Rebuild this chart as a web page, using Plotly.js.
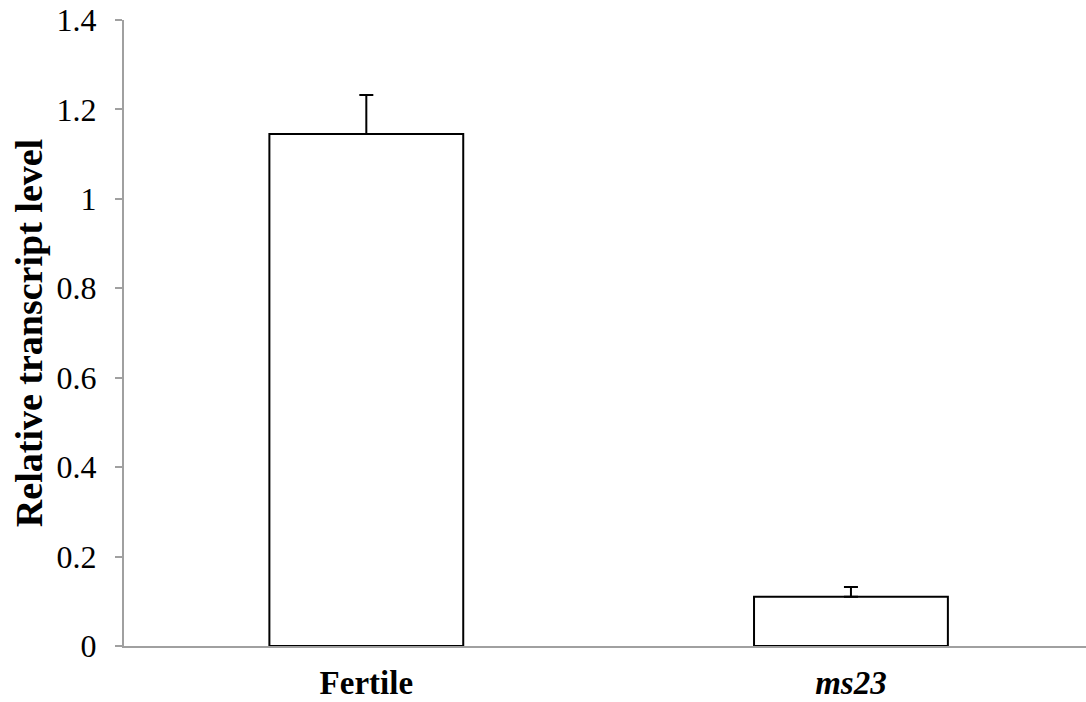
<!DOCTYPE html>
<html>
<head>
<meta charset="utf-8">
<script src="https://cdn.plot.ly/plotly-3.0.1.min.js"></script>
<style>html,body{margin:0;padding:0;background:#fff;}#chart{width:1086px;height:702px;}</style>
</head>
<body>
<div id="chart"></div>
<script>
const categories = ["<b>Fertile</b>", "<b><i>ms23</i></b>"];
const values = [1.145, 0.110];
const errorsPlus = [0.087, 0.022];
const errorsMinus = [0, 0];
const yTickValues = [0, 0.2, 0.4, 0.6, 0.8, 1, 1.2, 1.4];
const yTitle = "<b>Relative transcript level</b>";

const trace = {
  type: "bar",
  x: categories,
  y: values,
  width: 0.4,
  marker: {color: "#ffffff", line: {color: "#000000", width: 2}},
  error_y: {type: "data", symmetric: false, array: errorsPlus, arrayminus: errorsMinus,
            color: "#000000", thickness: 2, width: 7},
  hoverinfo: "none"
};

const font = "'Liberation Serif', 'Times New Roman', serif";
const layout = {
  width: 1086, height: 702,
  margin: {l: 124, r: 0, t: 20, b: 56, pad: 0},
  paper_bgcolor: "#ffffff", plot_bgcolor: "#ffffff",
  showlegend: false,
  font: {family: font, color: "#000000"},
  xaxis: {
    range: [-0.5, 1.485],
    showgrid: false, zeroline: false,
    showline: true, linecolor: "#a0a0a0", linewidth: 2,
    ticks: "", tickfont: {size: 33, family: font, color: "#000"},
    ticklabelstandoff: 6,
    fixedrange: true
  },
  yaxis: {
    range: [0, 1.4],
    tickvals: yTickValues,
    showgrid: false, zeroline: false,
    showline: true, linecolor: "#a0a0a0", linewidth: 2,
    ticks: "outside", ticklen: 7, tickwidth: 2, tickcolor: "#a0a0a0",
    tickfont: {size: 32, family: font, color: "#000"},
    ticklabelstandoff: 12,
    title: {text: yTitle, font: {size: 38, family: font, color: "#000"}, standoff: 2},
    fixedrange: true
  }
};

Plotly.newPlot("chart", [trace], layout, {staticPlot: true, displayModeBar: false});
</script>
</body>
</html>
